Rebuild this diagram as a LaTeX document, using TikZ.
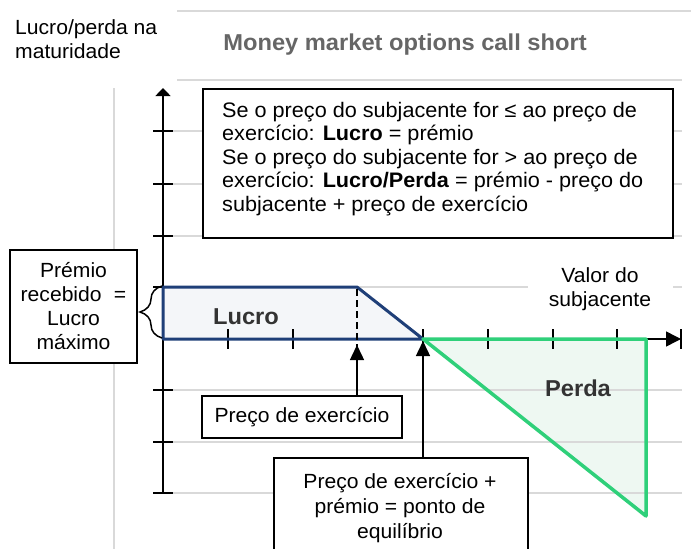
\documentclass[tikz,border=0pt]{standalone}
\usepackage{fontspec}
\setmainfont{Liberation Sans}[FakeStretch=1.03]
\usetikzlibrary{arrows.meta,decorations.pathreplacing}
\definecolor{navy}{HTML}{1F3F78}
\definecolor{grn}{HTML}{2FD07A}
\definecolor{lfill}{HTML}{F4F6F9}
\definecolor{pfill}{HTML}{EEF8F2}
\definecolor{gridc}{HTML}{D9D9D9}
\definecolor{titlegray}{HTML}{666666}
\definecolor{lblgray}{HTML}{333333}
\begin{document}
\begin{tikzpicture}[x=1pt,y=-1pt,
  txt/.style={font=\fontsize{20.5}{24}\selectfont, inner sep=0pt},
  boldlbl/.style={font=\fontsize{23}{26}\selectfont\bfseries, text=lblgray, inner sep=0pt},
  bx/.style={draw=black, line width=1.5pt, fill=white, font=\fontsize{20.5}{24}\selectfont},
  gridline/.style={draw=gridc, line width=1.5pt},
  axis/.style={draw=black, line width=1.5pt},
  tickmark/.style={draw=black, line width=1.5pt},
  pointer/.style={draw=black, line width=1.5pt, -{Triangle[length=15pt,width=14pt]}}
]
\useasboundingbox (0,0) rectangle (691,549);
% region fills
\fill[lfill] (163,287) -- (357,287) -- (423,339) -- (163,339) -- cycle;
\fill[pfill] (423,339) -- (646,339) -- (646,516) -- cycle;
% grid lines
\draw[gridline] (177,11) -- (691,11);
\draw[gridline] (177,80) -- (682,80);
\draw[gridline] (114,88) -- (114,549);
\foreach \y in {131,184,236,287,390,442,493} \draw[gridline] (173,\y) -- (682,\y);
% axes
\coordinate (O) at (163,339);
\coordinate (ytop) at (163,88);
\coordinate (ybot) at (163,493);
\coordinate (xend) at (681,339);
\coordinate (barT) at (681,329);
\coordinate (barB) at (681,349);
\draw[axis, -{Triangle[length=8pt,width=15pt]}] (ybot) -- (ytop);
\draw[axis, -{Triangle[length=15pt,width=15pt]}] (O) -- (xend);
\draw[axis] (barT) -- (barB);
\foreach \y in {131,184,236,287,390,442,493} \draw[tickmark] (153,\y) -- (173,\y);
\foreach \x in {228,293,423,488,553,617} \draw[tickmark] (\x,329) -- (\x,349);
% Lucro region
\draw[navy, line width=3pt, line join=round] (163,287) -- (357,287) -- (423,339) -- (163,339) -- cycle;
\draw[black, line width=2pt, dash pattern=on 7pt off 4pt] (357,289) -- (357,349);
% Perda region
\draw[grn, line width=3.5pt, line join=round] (423,339) -- (646,339) -- (646,516) -- cycle;
\node[boldlbl] (lucro) at (246,317) {Lucro};
\node[boldlbl] (perda) at (578,388) {Perda};
% labels
\node[txt, fill=white, align=center, minimum width=145pt, inner ysep=4pt] (valor) at (600,289) {Valor do\\subjacente};
\node[txt, align=left, anchor=north west] (ylabel) at (15,19) {Lucro/perda na\\maturidade};
\node[font=\fontsize{23}{26}\selectfont\bfseries, text=titlegray, inner sep=0pt] (title) at (405,45) {Money market options call short};
% text box
\node[bx, minimum width=470pt, minimum height=149pt, inner sep=0pt, anchor=north west] (rules) at (202,88) {};
\node[txt, font=\fontsize{21}{23.5}\selectfont, align=left, anchor=north west] (rulestext) at (222,102)
 {Se o preço do subjacente for ≤ ao preço de\\
  exercício: \textbf{Lucro} = prémio\\
  Se o preço do subjacente for > ao preço de\\
  exercício: \textbf{Lucro/Perda} = prémio - preço do\\
  subjacente + preço de exercício};
% premium box and brace
\node[bx, align=center, minimum width=127pt, minimum height=113pt, inner sep=0pt] (premio) at (73.5,306.5)
 {Prémio\\recebido\hspace{0.6em}=\\Lucro\\máximo};
\coordinate (braceB) at (162,338);
\coordinate (braceT) at (162,286);
\draw[decorate, decoration={brace, amplitude=22pt}, line width=1.5pt] (braceB) -- (braceT);
% strike price box
\node[bx, minimum width=200pt, minimum height=42pt, inner sep=0pt] (strike) at (302,417) {Preço de exercício};
\coordinate (strikept) at (357,345);
\draw[pointer] (strike.north -| strikept) -- (strikept);
% break-even box
\node[bx, minimum width=254pt, minimum height=98pt, inner sep=0pt, anchor=north west] (be) at (273,457) {};
\node[txt, align=center, font=\fontsize{20.5}{25}\selectfont] (betext) at (400,508) {Preço de exercício +\\prémio = ponto de\\equilíbrio};
\coordinate (bept) at (423,341);
\draw[pointer] (be.north -| bept) -- (bept);
\end{tikzpicture}
\end{document}
